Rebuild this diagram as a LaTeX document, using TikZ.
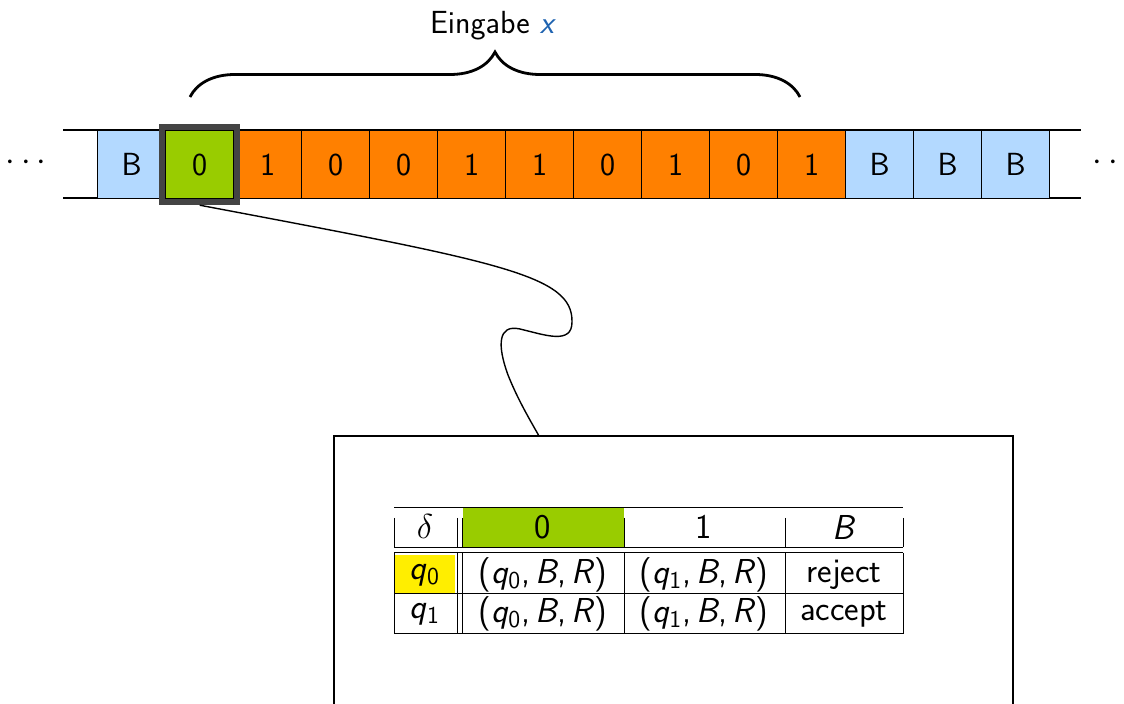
\documentclass[tikz,border=0pt]{standalone}
\usetikzlibrary{decorations.pathreplacing}
\definecolor{blankc}{HTML}{B3D9FF}
\definecolor{headc}{HTML}{99CC00}
\definecolor{inc}{HTML}{FF8000}
\definecolor{qc}{HTML}{FFEE00}
\definecolor{headfr}{HTML}{444444}
\definecolor{xblue}{HTML}{1F63B0}
\newcommand{\vq}[1]{\textit{q}\textsubscript{#1}}
\newcommand{\vt}[1]{(\vq{#1},\kern2.6pt\textit{B},\kern2.6pt\textit{R})}
\tikzset{
  every node/.style={font=\sffamily\fontsize{16}{19}\selectfont, inner sep=0pt},
  tabtext/.style={font=\sffamily\fontsize{17.3}{20}\selectfont},
  cell/.style={draw=black, line width=0.7pt, minimum width=34pt, minimum height=34pt, anchor=north west},
  tline/.style={line width=0.7pt},
  rule/.style={line width=0.5pt},
}
\begin{document}
\begin{tikzpicture}[x=0.5pt,y=-0.5pt]
\clip (0,0) rectangle (1124,704);
% tape lines
\draw[tline] (63,130) -- (1081,130);
\draw[tline] (63,198) -- (1081,198);
% cells
\foreach \t/\c [count=\i from 0] in {B/blankc,0/headc,1/inc,0/inc,0/inc,1/inc,1/inc,0/inc,1/inc,0/inc,1/inc,B/blankc,B/blankc,B/blankc}
  \node[cell, fill=\c] (c\i) at ({97+68*\i},130) {\t};
\node (ldots) at (26,163) {$\cdots$};
\node (rdots) at (1113,163) {$\cdots$};
% head
\node[draw=headfr, line width=3pt, minimum width=37.5pt, minimum height=37.5pt] (head) at (c1.center) {};
% brace
\draw[decorate, decoration={brace, amplitude=22.5pt, aspect=0.5}, line width=1.4pt] (190,97) -- coordinate[midway] (bmid) (800,97);
\node (lab) at (493,26) {Eingabe \textcolor{xblue}{\textit{x}}};
% box
\draw[line width=0.75pt] (334,720) -- (334,436) -- (1013,436) -- (1013,720);
\node[minimum width=1pt] (boxnode) at (539,436) {};
% connector
\draw[line width=0.7pt] (head.south) .. controls (500,262) and (573,275) .. (572,322)
   .. controls (572,345) and (545,335) .. (520,329)
   .. controls (498,324) and (497,345) .. (508,375)
   .. controls (518,400) and (530,420) .. (boxnode.center);
% table fills
\fill[headc] (463,508) rectangle (624,547);
\fill[qc] (394,555) rectangle (455,594);
% table rules
\draw[rule] (394,508) -- (903,508);
\foreach \x in {394,457,462,624,785,903} {
  \draw[rule] (\x,518) -- (\x,547);
  \draw[rule] (\x,553) -- (\x,634);
}
\draw[rule] (394,548) -- (903,548);
\draw[rule] (394,553) -- (903,553);
\draw[rule] (394,594) -- (903,594);
\draw[rule] (394,634) -- (903,634);
% table text
\begin{scope}[every node/.append style={tabtext}]
\node (h0) at (425,527) {$\delta$};
\node (h1) at (543,527) {0};
\node (h2) at (704,527) {1};
\node (h3) at (844,527) {\textit{B}};
\node (r0) at (425,575) {\vq{0}};
\node (r1) at (425,614) {\vq{1}};
\node (a00) at (543,575) {\vt{0}};
\node (a01) at (704,575) {\vt{1}};
\node (a02) at (844,575) {reject};
\node (a10) at (543,614) {\vt{0}};
\node (a11) at (704,614) {\vt{1}};
\node (a12) at (844,614) {accept};
\end{scope}
\end{tikzpicture}
\end{document}
